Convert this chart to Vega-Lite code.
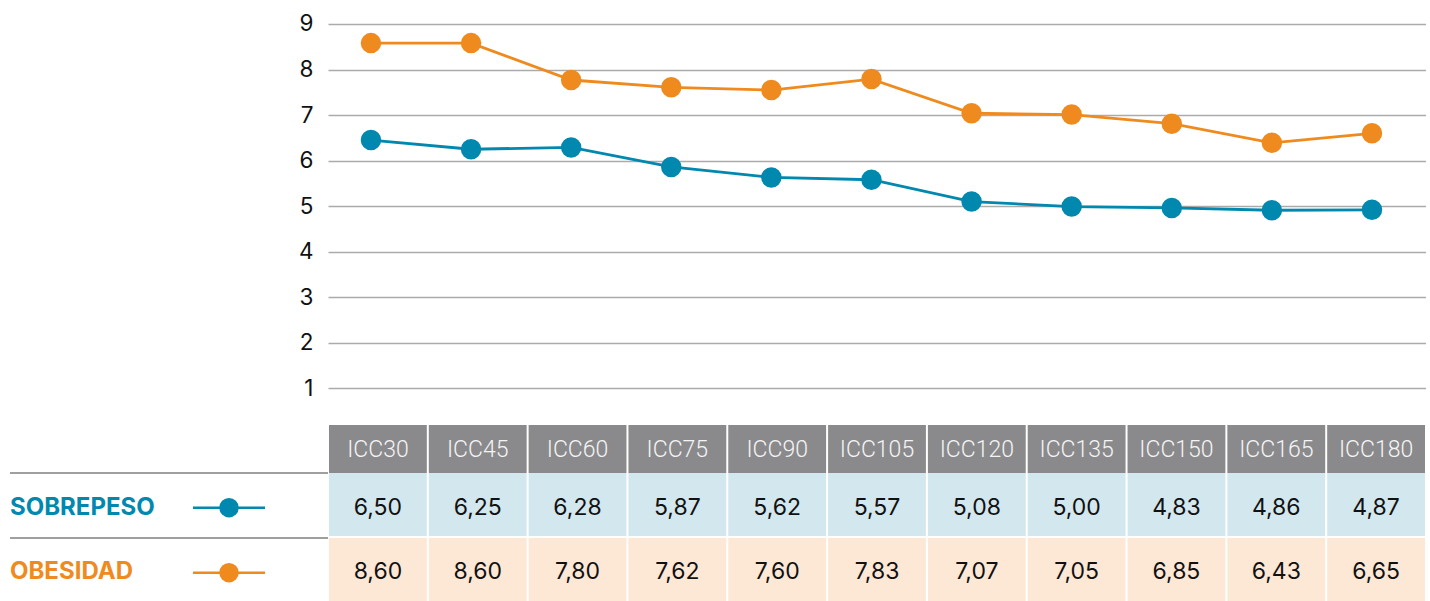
{
  "$schema": "https://vega.github.io/schema/vega-lite/v6.json",
  "padding": 0,
  "background": "white",
  "columns": 2,
  "spacing": 0,
  "bounds": "flush",
  "config": {
    "view": {"stroke": null},
    "font": "Inter",
    "locale": {"number": {"decimal": ",", "thousands": ".", "grouping": [3], "currency": ["", " €"]}}
  },
  "datasets": {
    "series": [
      {"icc": "ICC30", "serie": "SOBREPESO", "plot": 6.45, "tabla": 6.50},
      {"icc": "ICC45", "serie": "SOBREPESO", "plot": 6.25, "tabla": 6.25},
      {"icc": "ICC60", "serie": "SOBREPESO", "plot": 6.29, "tabla": 6.28},
      {"icc": "ICC75", "serie": "SOBREPESO", "plot": 5.86, "tabla": 5.87},
      {"icc": "ICC90", "serie": "SOBREPESO", "plot": 5.63, "tabla": 5.62},
      {"icc": "ICC105", "serie": "SOBREPESO", "plot": 5.58, "tabla": 5.57},
      {"icc": "ICC120", "serie": "SOBREPESO", "plot": 5.10, "tabla": 5.08},
      {"icc": "ICC135", "serie": "SOBREPESO", "plot": 4.99, "tabla": 5.00},
      {"icc": "ICC150", "serie": "SOBREPESO", "plot": 4.96, "tabla": 4.83},
      {"icc": "ICC165", "serie": "SOBREPESO", "plot": 4.91, "tabla": 4.86},
      {"icc": "ICC180", "serie": "SOBREPESO", "plot": 4.92, "tabla": 4.87},
      {"icc": "ICC30", "serie": "OBESIDAD", "plot": 8.58, "tabla": 8.60},
      {"icc": "ICC45", "serie": "OBESIDAD", "plot": 8.58, "tabla": 8.60},
      {"icc": "ICC60", "serie": "OBESIDAD", "plot": 7.77, "tabla": 7.80},
      {"icc": "ICC75", "serie": "OBESIDAD", "plot": 7.61, "tabla": 7.62},
      {"icc": "ICC90", "serie": "OBESIDAD", "plot": 7.55, "tabla": 7.60},
      {"icc": "ICC105", "serie": "OBESIDAD", "plot": 7.79, "tabla": 7.83},
      {"icc": "ICC120", "serie": "OBESIDAD", "plot": 7.04, "tabla": 7.07},
      {"icc": "ICC135", "serie": "OBESIDAD", "plot": 7.01, "tabla": 7.05},
      {"icc": "ICC150", "serie": "OBESIDAD", "plot": 6.81, "tabla": 6.85},
      {"icc": "ICC165", "serie": "OBESIDAD", "plot": 6.39, "tabla": 6.43},
      {"icc": "ICC180", "serie": "OBESIDAD", "plot": 6.60, "tabla": 6.65}
    ],
    "labels": [
      {"serie": "SOBREPESO"},
      {"serie": "OBESIDAD"}
    ]
  },
  "concat": [
    {
      "width": 328, "height": 425,
      "data": {"values": []},
      "mark": "point"
    },
    {
      "width": 1098, "height": 425,
      "data": {"name": "series"},
      "encoding": {
        "x": {"field": "icc", "type": "ordinal",
              "sort": ["ICC30","ICC45","ICC60","ICC75","ICC90","ICC105","ICC120","ICC135","ICC150","ICC165","ICC180"],
              "scale": {"type": "point", "padding": 0.4845, "align": 0.443}, "axis": null},
        "y": {"field": "plot", "type": "quantitative",
              "scale": {"domain": [0.194, 9.527], "nice": false, "zero": false},
              "axis": {"values": [1,2,3,4,5,6,7,8,9], "grid": true, "gridColor": "#ababab", "gridWidth": 1.4,
                       "domain": false, "ticks": false, "labelFontSize": 22.5, "labelColor": "#111111",
                       "labelPadding": 15, "labelFont": "Inter", "title": null}},
        "color": {"field": "serie", "type": "nominal",
                  "scale": {"domain": ["SOBREPESO","OBESIDAD"], "range": ["#0088ae","#ef8a1e"]}, "legend": null}
      },
      "layer": [
        {"mark": {"type": "line", "strokeWidth": 2.8}},
        {"mark": {"type": "circle", "size": 420, "opacity": 1}}
      ]
    },
    {
      "width": 328, "height": 48,
      "data": {"values": []},
      "mark": "point"
    },
    {
      "width": 1098, "height": 48,
      "data": {"name": "series"},
      "transform": [{"filter": "datum.serie === 'SOBREPESO'"}],
      "encoding": {
        "x": {"field": "icc", "type": "nominal",
              "sort": ["ICC30","ICC45","ICC60","ICC75","ICC90","ICC105","ICC120","ICC135","ICC150","ICC165","ICC180"],
              "scale": {"type": "band", "paddingInner": 0.02, "paddingOuter": 0.01}, "axis": null}
      },
      "layer": [
        {"mark": {"type": "rect", "fill": "#8a8a8c"}},
        {"mark": {"type": "text", "font": "Roboto", "fontWeight": 300, "fontSize": 23, "fill": "#f4f4f4", "dy": 1},
         "encoding": {"text": {"field": "icc", "type": "nominal"}}}
      ]
    },
    {
      "width": 328, "height": 128,
      "data": {"name": "labels"},
      "encoding": {
        "y": {"field": "serie", "type": "nominal", "sort": ["SOBREPESO","OBESIDAD"],
              "scale": {"type": "band", "paddingInner": 0.03, "paddingOuter": 0}, "axis": null}
      },
      "layer": [
        {"mark": {"type": "rule", "stroke": "#7f7f7f", "strokeWidth": 1.5},
         "encoding": {
           "y": {"field": "serie", "type": "nominal", "sort": ["SOBREPESO","OBESIDAD"], "bandPosition": 0},
           "x": {"datum": "texto", "type": "nominal", "scale": {"type": "point", "domain": ["texto","simbolo"], "range": [10, 229], "padding": 0}, "axis": null},
           "x2": {"value": "width"}
         }},
        {"mark": {"type": "text", "align": "left", "fontSize": 24, "fontWeight": "bold", "dy": 3},
         "encoding": {
           "x": {"datum": "texto", "type": "nominal"},
           "text": {"field": "serie", "type": "nominal"},
           "color": {"field": "serie", "type": "nominal", "legend": null}
         }},
        {"mark": {"type": "rule", "strokeWidth": 2.5, "xOffset": -36, "x2Offset": 36},
         "encoding": {
           "x": {"datum": "simbolo", "type": "nominal"},
           "x2": {"datum": "simbolo"},
           "y": {"field": "serie", "type": "nominal", "sort": ["SOBREPESO","OBESIDAD"], "bandPosition": 0.55},
           "color": {"field": "serie", "type": "nominal", "legend": null}
         }},
        {"mark": {"type": "circle", "size": 380, "opacity": 1},
         "encoding": {
           "x": {"datum": "simbolo", "type": "nominal"},
           "y": {"field": "serie", "type": "nominal", "sort": ["SOBREPESO","OBESIDAD"], "bandPosition": 0.55},
           "color": {"field": "serie", "type": "nominal", "legend": null}
         }}
      ]
    },
    {
      "width": 1098, "height": 128,
      "data": {"name": "series"},
      "encoding": {
        "x": {"field": "icc", "type": "nominal",
              "sort": ["ICC30","ICC45","ICC60","ICC75","ICC90","ICC105","ICC120","ICC135","ICC150","ICC165","ICC180"],
              "scale": {"type": "band", "paddingInner": 0.02, "paddingOuter": 0.01}, "axis": null},
        "y": {"field": "serie", "type": "nominal", "sort": ["SOBREPESO","OBESIDAD"],
              "scale": {"type": "band", "paddingInner": 0.03, "paddingOuter": 0}, "axis": null}
      },
      "layer": [
        {"mark": {"type": "rect"},
         "encoding": {"fill": {"field": "serie", "type": "nominal",
                               "scale": {"domain": ["SOBREPESO","OBESIDAD"], "range": ["#d3e7ee","#fde8d6"]}, "legend": null}}},
        {"mark": {"type": "text", "fontSize": 23, "fill": "#111111", "dy": 3},
         "encoding": {"text": {"field": "tabla", "type": "quantitative", "format": ".2f"}}}
      ]
    }
  ]
}
